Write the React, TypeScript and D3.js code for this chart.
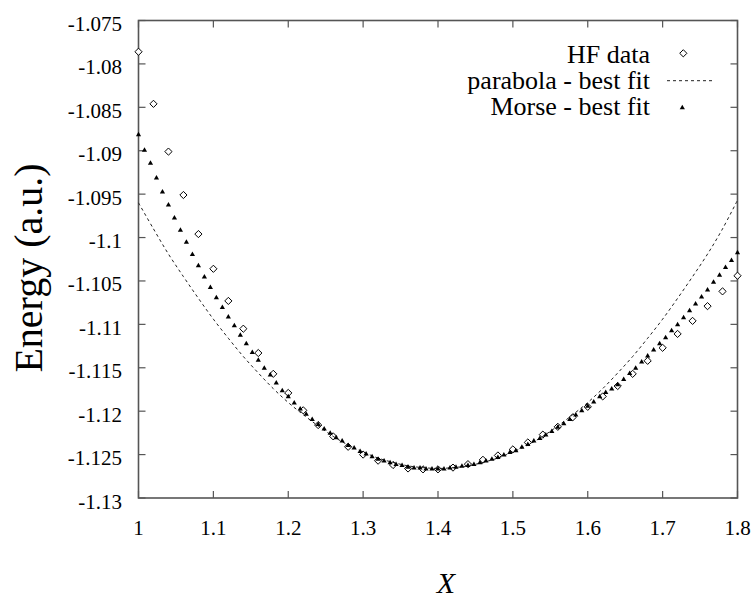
import React from "react";
import * as d3 from "d3";

const hfX = [1.00,1.02,1.04,1.06,1.08,1.10,1.12,1.14,1.16,1.18,1.20,1.22,1.24,1.26,1.28,1.30,1.32,1.34,1.36,1.38,1.40,1.42,1.44,1.46,1.48,1.50,1.52,1.54,1.56,1.58,1.60,1.62,1.64,1.66,1.68,1.70,1.72,1.74,1.76,1.78,1.80];
const hfY = [-1.0786,-1.0846,-1.0901,-1.0951,-1.0996,-1.1036,-1.1073,-1.1105,-1.1133,-1.1157,-1.1179,-1.1199,-1.1216,-1.1229,-1.1241,-1.1250,-1.1257,-1.1262,-1.1266,-1.1267,-1.1267,-1.1265,-1.1261,-1.1256,-1.1251,-1.1244,-1.1236,-1.1227,-1.1218,-1.1207,-1.1195,-1.1183,-1.1171,-1.1157,-1.1142,-1.1127,-1.1111,-1.1096,-1.1079,-1.1062,-1.1044];

const parX = [1.00,1.02,1.04,1.06,1.08,1.10,1.12,1.14,1.16,1.18,1.20,1.22,1.24,1.26,1.28,1.30,1.32,1.34,1.36,1.38,1.40,1.42,1.44,1.46,1.48,1.50,1.52,1.54,1.56,1.58,1.60,1.62,1.64,1.66,1.68,1.70,1.72,1.74,1.76,1.78,1.80];
const parY = [-1.0960,-1.0990,-1.1019,-1.1045,-1.1070,-1.1094,-1.1116,-1.1137,-1.1156,-1.1174,-1.1190,-1.1204,-1.1217,-1.1229,-1.1239,-1.1247,-1.1254,-1.1259,-1.1263,-1.1265,-1.1266,-1.1265,-1.1263,-1.1259,-1.1254,-1.1247,-1.1239,-1.1229,-1.1217,-1.1204,-1.1190,-1.1174,-1.1156,-1.1137,-1.1116,-1.1094,-1.1070,-1.1045,-1.1019,-1.0990,-1.0957];

const morseX = [1.000,1.008,1.016,1.024,1.032,1.040,1.048,1.056,1.064,1.072,1.080,1.088,1.096,1.104,1.112,1.120,1.128,1.136,1.144,1.152,1.160,1.168,1.176,1.184,1.192,1.200,1.208,1.216,1.224,1.232,1.240,1.248,1.256,1.264,1.272,1.280,1.288,1.296,1.304,1.312,1.320,1.328,1.336,1.344,1.352,1.360,1.368,1.376,1.384,1.392,1.400,1.408,1.416,1.424,1.432,1.440,1.448,1.456,1.464,1.472,1.480,1.488,1.496,1.504,1.512,1.520,1.528,1.536,1.544,1.552,1.560,1.568,1.576,1.584,1.592,1.600,1.608,1.616,1.624,1.632,1.640,1.648,1.656,1.664,1.672,1.680,1.688,1.696,1.704,1.712,1.720,1.728,1.736,1.744,1.752,1.760,1.768,1.776,1.784,1.792,1.800];
const morseY = [-1.0881,-1.0899,-1.0914,-1.0931,-1.0947,-1.0962,-1.0977,-1.0991,-1.1005,-1.1019,-1.1032,-1.1045,-1.1057,-1.1069,-1.1080,-1.1091,-1.1101,-1.1112,-1.1122,-1.1132,-1.1141,-1.1150,-1.1158,-1.1167,-1.1176,-1.1183,-1.1190,-1.1197,-1.1203,-1.1209,-1.1215,-1.1220,-1.1225,-1.1230,-1.1234,-1.1239,-1.1242,-1.1246,-1.1249,-1.1252,-1.1255,-1.1257,-1.1259,-1.1261,-1.1262,-1.1264,-1.1265,-1.1265,-1.1266,-1.1266,-1.1266,-1.1266,-1.1265,-1.1264,-1.1263,-1.1262,-1.1261,-1.1259,-1.1257,-1.1255,-1.1253,-1.1250,-1.1247,-1.1245,-1.1241,-1.1238,-1.1234,-1.1231,-1.1227,-1.1223,-1.1218,-1.1214,-1.1209,-1.1204,-1.1199,-1.1194,-1.1189,-1.1183,-1.1178,-1.1174,-1.1169,-1.1163,-1.1156,-1.1150,-1.1143,-1.1136,-1.1129,-1.1122,-1.1115,-1.1107,-1.1100,-1.1092,-1.1084,-1.1076,-1.1068,-1.1060,-1.1051,-1.1043,-1.1034,-1.1026,-1.1017];

const xTicks = [1, 1.1, 1.2, 1.3, 1.4, 1.5, 1.6, 1.7, 1.8];
const xTickLabels = ["1", "1.1", "1.2", "1.3", "1.4", "1.5", "1.6", "1.7", "1.8"];
const yTicks = [-1.075, -1.08, -1.085, -1.09, -1.095, -1.1, -1.105, -1.11, -1.115, -1.12, -1.125, -1.13];
const yTickLabels = ["-1.075", "-1.08", "-1.085", "-1.09", "-1.095", "-1.1", "-1.105", "-1.11", "-1.115", "-1.12", "-1.125", "-1.13"];
const legendLabels = ["HF data", "parabola - best fit", "Morse - best fit"];

const W = 753, H = 599;
const L = 138.5, R = 737.5, T = 20.5, B = 498;
const FONT = "'Liberation Serif', 'DejaVu Serif', serif";

const diamond = (r: number) => `M0,${-r}L${r},0L0,${r}L${-r},0Z`;
const tri = "M0,-2.6L2.6,1.9L-2.6,1.9Z";

export default function App() {
  const x = d3.scaleLinear().domain([1, 1.8]).range([L, R]);
  const y = d3.scaleLinear().domain([-1.13, -1.075]).range([B, T]);
  const line = d3.line<number>().x((_, i) => x(parX[i])).y((v) => y(v)).curve(d3.curveCatmullRom);
  const tickLen = 7;
  const axisColor = "#555";

  return (
    <svg width={W} height={H} style={{ position: "absolute", left: 0, top: 0, background: "#fff" }} fontFamily={FONT}>
      <rect x={0} y={0} width={W} height={H} fill="#fff" />
      {/* ticks */}
      {yTicks.map((t, i) => (
        <g key={"yt" + i}>
          <line x1={L} x2={L + tickLen} y1={y(t)} y2={y(t)} stroke={axisColor} strokeWidth={1.2} />
          <line x1={R} x2={R - tickLen} y1={y(t)} y2={y(t)} stroke={axisColor} strokeWidth={1.2} />
          <text x={122} y={y(t) + 10.5} textAnchor="end" fontSize={21} fill="#000">{yTickLabels[i]}</text>
        </g>
      ))}
      {xTicks.map((t, i) => (
        <g key={"xt" + i}>
          <line x1={x(t)} x2={x(t)} y1={B} y2={B - tickLen} stroke={axisColor} strokeWidth={1.2} />
          <line x1={x(t)} x2={x(t)} y1={T} y2={T + tickLen} stroke={axisColor} strokeWidth={1.2} />
          <text x={x(t)} y={534.5} textAnchor="middle" fontSize={21} fill="#000">{xTickLabels[i]}</text>
        </g>
      ))}
      {/* frame */}
      <rect x={L} y={T} width={R - L} height={B - T} fill="none" stroke={axisColor} strokeWidth={1.6} />

      {/* HF data */}
      {hfX.map((xv, i) => (
        <path key={"hf" + i} d={diamond(3.6)} transform={`translate(${x(xv)},${y(hfY[i])})`} fill="#fff" stroke="#000" strokeWidth={1} />
      ))}
      {/* parabola */}
      <path d={line(parY) || ""} fill="none" stroke="#222" strokeWidth={1} strokeDasharray="3,3" />
      {/* Morse */}
      {morseX.map((xv, i) => (
        <path key={"mo" + i} d={tri} transform={`translate(${x(xv)},${y(morseY[i])})`} fill="#000" />
      ))}

      {/* legend */}
      <text x={650} y={63.3} textAnchor="end" fontSize={26} fill="#000">{legendLabels[0]}</text>
      <path d={diamond(3.6)} transform="translate(683.3,53.3)" fill="#fff" stroke="#000" strokeWidth={1} />
      <text x={650} y={89.3} textAnchor="end" fontSize={26} fill="#000">{legendLabels[1]}</text>
      <line x1={667} x2={715} y1={80.7} y2={80.7} stroke="#222" strokeWidth={1} strokeDasharray="3,3" />
      <text x={650} y={115.3} textAnchor="end" fontSize={26} fill="#000">{legendLabels[2]}</text>
      <path d={tri} transform="translate(682.3,107.3)" fill="#000" />

      {/* axis titles */}
      <text transform="translate(42,268) rotate(-90)" textAnchor="middle" fontSize={40} fill="#000">Energy (a.u.)</text>
      <text x={446} y={593} textAnchor="middle" fontSize={30} fontStyle="italic" fill="#000">X</text>
    </svg>
  );
}
